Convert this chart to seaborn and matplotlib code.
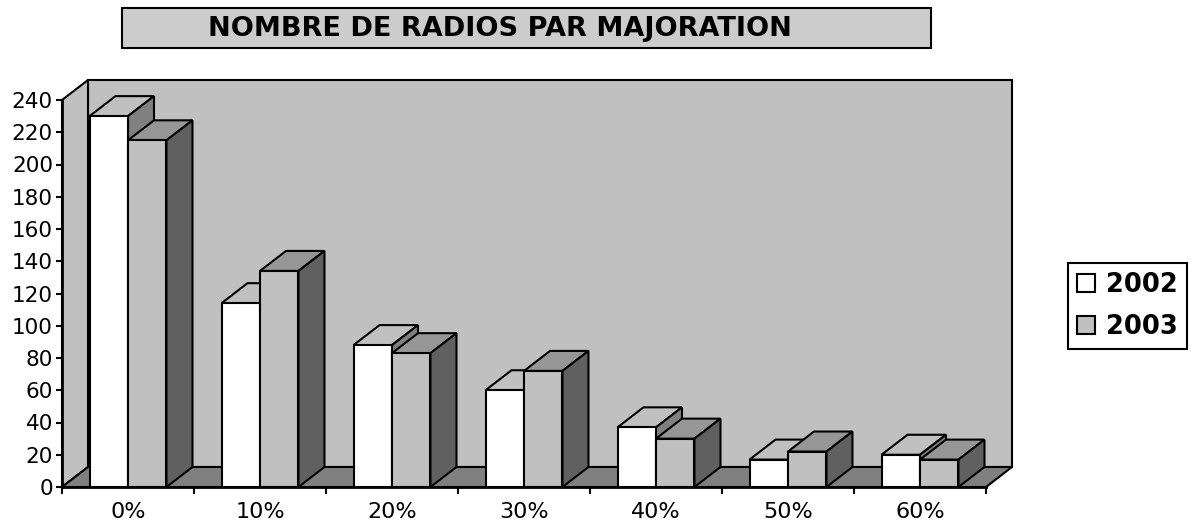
import matplotlib
matplotlib.use("Agg")
import matplotlib.pyplot as plt
import pandas as pd
import seaborn as sns
from matplotlib.patches import Polygon, Rectangle

categories = ["0%", "10%", "20%", "30%", "40%", "50%", "60%"]
values_2002 = [230, 114, 88, 60, 37, 17, 20]
values_2003 = [215, 134, 83, 72, 30, 22, 17]
y_ticks = list(range(0, 241, 20))

WIDTH, HEIGHT = 1191, 522
LW = 1.5
GREY = "#c0c0c0"
INK = "#000000"


def add_faces(ax, bar, dx, dy, top_color, side_color, zorder):
    x0, x1 = bar.get_x(), bar.get_x() + bar.get_width()
    h = bar.get_height()
    top = [(x0, h), (x1, h), (x1 + dx, h + dy), (x0 + dx, h + dy)]
    side = [(x1, 0), (x1 + dx, dy), (x1 + dx, h + dy), (x1, h)]
    for pts, color in ((top, top_color), (side, side_color)):
        ax.add_patch(
            Polygon(pts, facecolor=color, edgecolor=INK, lw=LW, zorder=zorder, clip_on=False)
        )


def main():
    sns.set_theme(style="white")
    plt.rcParams["font.family"] = ["DejaVu Sans"]

    df = pd.DataFrame(
        {
            "majoration": categories * 2,
            "radios": values_2002 + values_2003,
            "annee": ["2002"] * len(categories) + ["2003"] * len(categories),
        }
    )

    fig = plt.figure(figsize=(WIDTH / 100, HEIGHT / 100), dpi=100, facecolor="white")
    ax = fig.add_axes([62 / WIDTH, 1 - 487 / HEIGHT, 924 / WIDTH, 387 / HEIGHT])
    ax.set_facecolor("none")

    sns.barplot(
        data=df,
        x="majoration",
        y="radios",
        hue="annee",
        palette=["#ffffff", GREY],
        width=0.583,
        edgecolor=INK,
        linewidth=LW,
        saturation=1,
        zorder=5,
        ax=ax,
    )
    ax.set_xlim(-0.5, len(categories) - 0.5)
    ax.set_ylim(0, y_ticks[-1])

    # depth of the fake 3D box, in data units
    dx = 26 / (924 / len(categories))
    dy = 20 / (387 / y_ticks[-1])
    xa, xb = ax.get_xlim()
    ya, yb = ax.get_ylim()

    walls = [
        ([(xa + dx, ya + dy), (xb + dx, ya + dy), (xb + dx, yb + dy), (xa + dx, yb + dy)], GREY),
        ([(xa, ya), (xa + dx, ya + dy), (xa + dx, yb + dy), (xa, yb)], GREY),
        ([(xa, ya), (xb, ya), (xb + dx, ya + dy), (xa + dx, ya + dy)], "#808080"),
    ]
    for pts, color in walls:
        ax.add_patch(
            Polygon(pts, facecolor=color, edgecolor=INK, lw=LW, zorder=1, clip_on=False)
        )

    n = len(categories)
    for i, bar in enumerate(ax.patches[:n * 2]):
        if i < n:
            add_faces(ax, bar, dx, dy, GREY, "#808080", 3)
        else:
            add_faces(ax, bar, dx, dy, "#969696", "#606060", 4)

    for side in ("top", "right"):
        ax.spines[side].set_visible(False)
    for side in ("left", "bottom"):
        ax.spines[side].set_visible(True)
        ax.spines[side].set_color(INK)
        ax.spines[side].set_linewidth(2)
        ax.spines[side].set_zorder(6)

    ax.set_xlabel("")
    ax.set_ylabel("")
    ax.set_yticks(y_ticks)
    # x ticks sit between the groups, labels stay centred under them
    ax.set_xticks([i - 0.5 for i in range(n + 1)])
    ax.set_xticklabels([])
    ax.set_xticks(range(n), labels=categories, minor=True)
    ax.tick_params(axis="x", which="major", length=5, width=1.5, color=INK, bottom=True)
    ax.tick_params(axis="x", which="minor", length=0, pad=11, labelsize=16, labelcolor=INK)
    ax.tick_params(axis="y", length=4.5, width=1.5, color=INK, left=True, pad=2, labelsize=15.5, labelcolor=INK)

    handles, labels = ax.get_legend_handles_labels()
    ax.legend(
        handles,
        labels,
        loc="center left",
        bbox_to_anchor=(1068 / WIDTH, 1 - 306 / HEIGHT),
        bbox_transform=fig.transFigure,
        fancybox=False,
        framealpha=1,
        edgecolor=INK,
        labelcolor=INK,
        borderpad=0.35,
        labelspacing=0.62,
        handlelength=0.72,
        handleheight=0.72,
        handletextpad=0.4,
        borderaxespad=0,
        prop={"weight": "bold", "size": 18.5},
    ).get_frame().set_linewidth(1.5)

    fig.add_artist(
        Rectangle(
            (122 / WIDTH, 1 - 48 / HEIGHT),
            809 / WIDTH,
            40 / HEIGHT,
            transform=fig.transFigure,
            facecolor="#cccccc",
            edgecolor=INK,
            lw=1.5,
        )
    )
    fig.text(
        500 / WIDTH,
        1 - 29.5 / HEIGHT,
        "NOMBRE DE RADIOS PAR MAJORATION",
        ha="center",
        va="center",
        fontsize=19.5,
        fontweight="bold",
        color=INK,
    )

    fig.savefig("out.png", dpi=100)
    plt.close(fig)


if __name__ == "__main__":
    main()
